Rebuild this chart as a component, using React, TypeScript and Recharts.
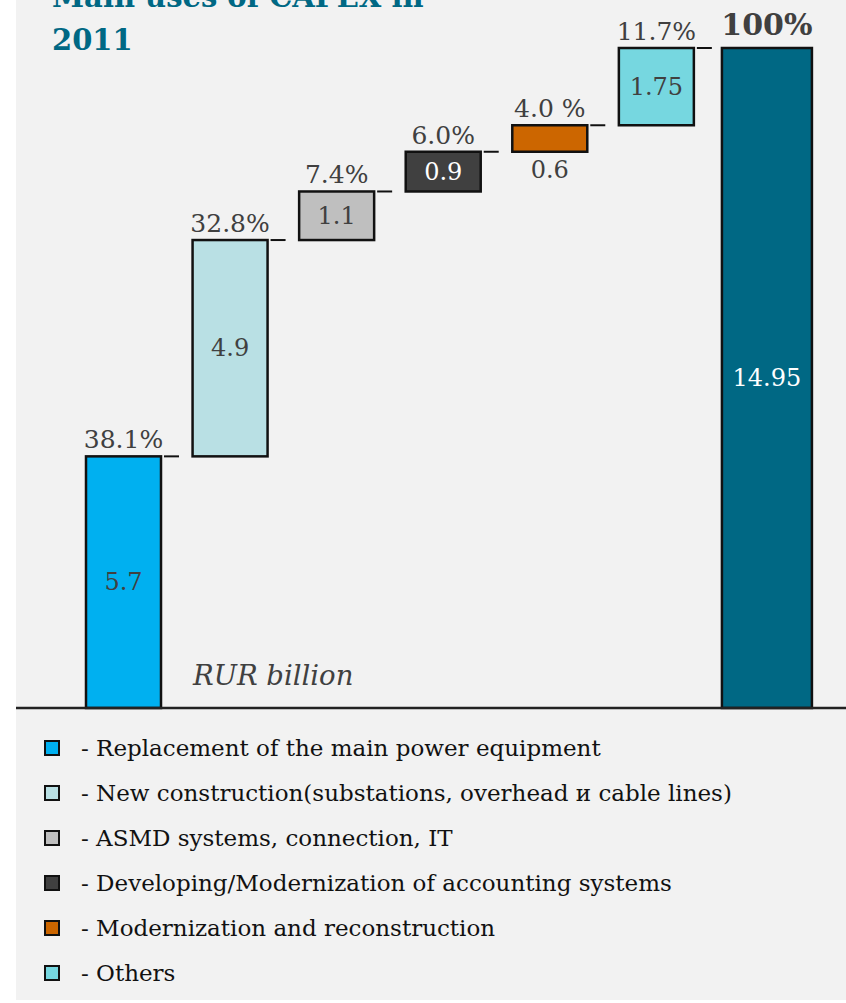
import { BarChart, Bar, XAxis, YAxis, Cell } from "recharts";

const categories = [
  "Replacement of the main power equipment",
  "New construction(substations, overhead и cable lines)",
  "ASMD systems, connection, IT",
  "Developing/Modernization of accounting systems",
  "Modernization and reconstruction",
  "Others",
  "Total",
];
const values = [5.7, 4.9, 1.1, 0.9, 0.6, 1.75, 14.95];
const shares = ["38.1%", "32.8%", "7.4%", "6.0%", "4.0 %", "11.7%", "100%"];
const colors = ["#00b0f0", "#b9e0e4", "#bfbfbf", "#404040", "#cc6600", "#76d7e0", "#006884"];

const lastIdx = values.length - 1;
const total = values[lastIdx];

// invisible base for the waterfall steps, total bar sits on zero
const data = values.map((v, i) => {
  const base = i === lastIdx ? 0 : values.slice(0, i).reduce((a, b) => a + b, 0);
  return { name: categories[i], base, value: v, share: shares[i] };
});

const serif = "'DejaVu Serif', serif";

function StepBar(props: any) {
  const { y, height, index, fill, payload } = props;
  let { x, width } = props;
  const isTotal = index === lastIdx;
  if (isTotal) {
    x = x - 3.5;
    width = width + 15;
  }
  const cx = x + width / 2;
  const short = height < 30;
  const darkFill = index === 3 || isTotal;
  return (
    <g>
      <rect x={x} y={y} width={width} height={height} fill={fill} stroke="#111" strokeWidth={2.5} />
      {!isTotal && (
        <line x1={x + width + 3} x2={x + width + 18} y1={y} y2={y} stroke="#111" strokeWidth={2} />
      )}
      <text
        x={cx}
        y={y - (isTotal ? 13 : 8)}
        textAnchor="middle"
        fontFamily={serif}
        fontSize={isTotal ? 30 : 25}
        fontWeight={isTotal ? "bold" : "normal"}
        fill="#404040"
      >
        {payload.share}
      </text>
      <text
        x={cx}
        y={short ? y + height + 26 : y + height / 2}
        dominantBaseline={short ? "auto" : "central"}
        textAnchor="middle"
        fontFamily={serif}
        fontSize={24}
        fill={darkFill ? "#ffffff" : "#404040"}
      >
        {payload.value}
      </text>
    </g>
  );
}

export default function App() {
  return (
    <div style={{ position: "absolute", left: 0, top: 0, width: 846, height: 1003, background: "#fff", overflow: "hidden" }}>
      <div style={{ position: "absolute", left: 16, top: 0, width: 830, height: 1000, background: "#f2f2f2" }} />
      <div
        style={{
          position: "absolute",
          left: 52,
          top: -24.5,
          fontFamily: serif,
          fontWeight: "bold",
          fontSize: 29,
          lineHeight: "43px",
          color: "#006884",
        }}
      >
        Main uses of CAPEX in
        <br />
        2011
      </div>
      <div style={{ position: "absolute", left: 0, top: 0 }}>
        <BarChart
          width={846}
          height={714}
          data={data}
          margin={{ top: 48, right: 0, left: 16, bottom: 2 }}
          barSize={75}
        >
          <XAxis
            dataKey="name"
            height={4}
            tick={false}
            tickLine={false}
            padding={{ left: 54, right: 30 }}
            axisLine={{ stroke: "#222", strokeWidth: 2.5 }}
          />
          <YAxis hide domain={[0, total]} />
          <Bar dataKey="base" stackId="w" fill="transparent" isAnimationActive={false} />
          <Bar dataKey="value" stackId="w" shape={<StepBar />} isAnimationActive={false}>
            {data.map((d, i) => (
              <Cell key={d.name} fill={colors[i]} />
            ))}
          </Bar>
        </BarChart>
      </div>
      <div
        style={{
          position: "absolute",
          left: 193,
          top: 659,
          fontFamily: serif,
          fontStyle: "italic",
          fontSize: 27.5,
          color: "#404040",
        }}
      >
        RUR billion
      </div>
      <div style={{ position: "absolute", left: 44, top: 725 }}>
        {categories.slice(0, lastIdx).map((c, i) => (
          <div key={c} style={{ display: "flex", alignItems: "center", height: 45 }}>
            <div
              style={{
                width: 16,
                height: 16,
                boxSizing: "border-box",
                border: "2px solid #111",
                background: colors[i],
              }}
            />
            <span
              style={{
                marginLeft: 21,
                fontFamily: serif,
                fontSize: 23,
                color: "#111",
                whiteSpace: "nowrap",
              }}
            >
              - {c}
            </span>
          </div>
        ))}
      </div>
    </div>
  );
}
